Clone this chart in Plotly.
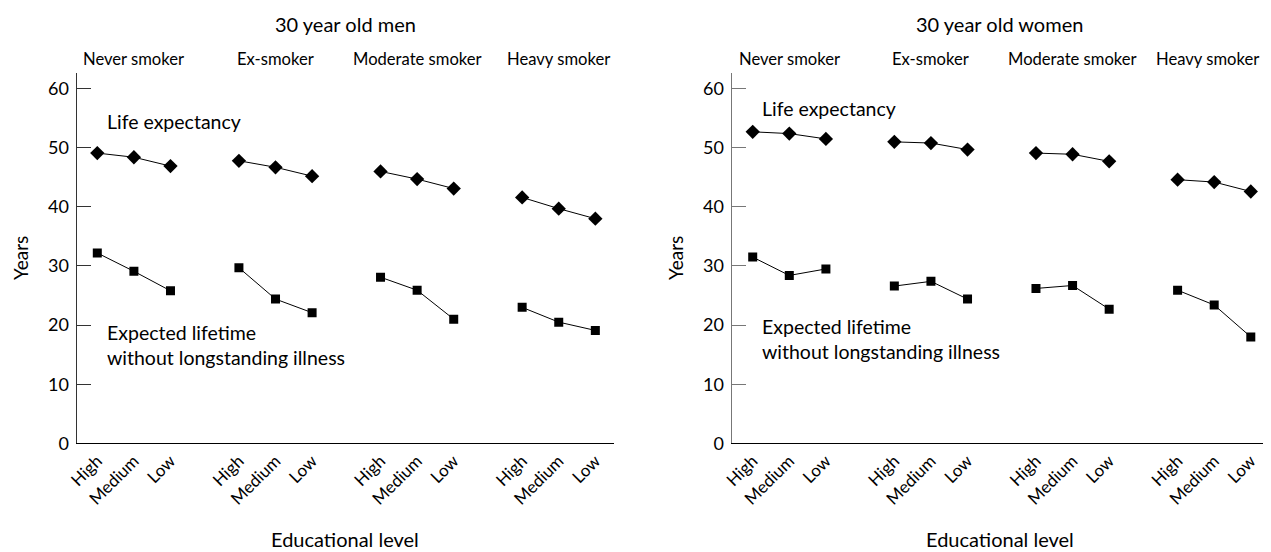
import plotly.graph_objects as go

groups = ["Never smoker", "Ex-smoker", "Moderate smoker", "Heavy smoker"]
levels = ["High", "Medium", "Low"]

men_life = [[49.1, 48.4, 46.9], [47.8, 46.7, 45.2], [46.0, 44.7, 43.1], [41.6, 39.7, 38.0]]
men_healthy = [[32.2, 29.1, 25.8], [29.7, 24.4, 22.1], [28.1, 25.9, 21.0], [23.0, 20.5, 19.1]]
women_life = [[52.7, 52.4, 51.5], [51.0, 50.8, 49.7], [49.1, 48.9, 47.7], [44.6, 44.2, 42.6]]
women_healthy = [[31.5, 28.4, 29.5], [26.6, 27.4, 24.4], [26.2, 26.7, 22.7], [25.9, 23.4, 18.0]]

panel_titles = ["30 year old men", "30 year old women"]
y_ticks = [0, 10, 20, 30, 40, 50, 60]

GAP = 3.87
FONT = "Lato"
W, H = 1271, 552
OFF = 8  # page body margin
FW, FH = W - OFF, H - OFF


def fx(px):
    return (px - OFF) / FW


def fy(py):
    return (H - py) / FH


def xpos(g, k):
    return g * GAP + k


def build(series):
    xs, ys = [], []
    for g, vals in enumerate(series):
        for k, v in enumerate(vals):
            xs.append(xpos(g, k))
            ys.append(v)
        xs.append(None)
        ys.append(None)
    return xs, ys


fig = go.Figure()
panels = [(men_life, men_healthy), (women_life, women_healthy)]
for p, (life, healthy) in enumerate(panels):
    xa = "x" if p == 0 else "x2"
    ya = "y" if p == 0 else "y2"
    x1, y1 = build(life)
    fig.add_trace(go.Scatter(x=x1, y=y1, xaxis=xa, yaxis=ya, mode="lines+markers",
                             line=dict(color="black", width=1),
                             marker=dict(symbol="diamond", size=11, color="black"),
                             connectgaps=False, showlegend=False))
    x2, y2 = build(healthy)
    fig.add_trace(go.Scatter(x=x2, y=y2, xaxis=xa, yaxis=ya, mode="lines+markers",
                             line=dict(color="black", width=1),
                             marker=dict(symbol="square", size=9, color="black"),
                             connectgaps=False, showlegend=False))

tickvals = [xpos(g, k) for g in range(len(groups)) for k in range(len(levels))]
ticktext = [levels[k] for g in range(len(groups)) for k in range(len(levels))]

xranges = [[-0.563, 14.12], [-0.574, 14.08]]
yrange_ = [0, 62.6]

xdoms = [[fx(76.7), fx(614)], [fx(731.7), fx(1268)]]
ydom = [fy(443.3), fy(73.3)]
ylinecolors = ["#333333", "#777777"]

common_x = dict(showline=True, linecolor="black", linewidth=1.2,
                showgrid=False, zeroline=False, tickmode="array", tickvals=tickvals,
                ticktext=ticktext, tickangle=-45, ticks="", automargin=False,
                tickfont=dict(family=FONT, size=17, color="black"))
common_y = dict(range=yrange_, showline=True, linewidth=1.3,
                showgrid=False, zeroline=False, tickmode="array", tickvals=y_ticks,
                ticks="inside", ticklen=14, tickwidth=1, automargin=False,
                ticklabelstandoff=3,
                tickfont=dict(family=FONT, size=18, color="black"))

fig.update_layout(
    width=FW, height=FH,
    margin=dict(l=0, r=0, t=0, b=0),
    paper_bgcolor="white", plot_bgcolor="white",
    xaxis=dict(domain=xdoms[0], anchor="y", range=xranges[0], **common_x),
    yaxis=dict(domain=ydom, anchor="x", linecolor=ylinecolors[0], tickcolor=ylinecolors[0], **common_y),
    xaxis2=dict(domain=xdoms[1], anchor="y2", range=xranges[1], **common_x),
    yaxis2=dict(domain=ydom, anchor="x2", linecolor=ylinecolors[1], tickcolor=ylinecolors[1], **common_y),
)

life_label_y = [54.4, 56.7]
life_label_x = [0.21, 0.2]
healthy_label_y = [16.6, 17.6]
years_x = [20, 675]

annotations = []
for p in range(2):
    xr = "x" if p == 0 else "x2"
    yr = "y" if p == 0 else "y2"
    dom = xdoms[p]
    cx = (dom[0] + dom[1]) / 2
    annotations.append(dict(text=panel_titles[p], xref="paper", yref="paper",
                            x=cx, y=fy(24), xanchor="center", yanchor="middle",
                            showarrow=False, font=dict(family=FONT, size=20, color="black")))
    annotations.append(dict(text="Educational level", xref="paper", yref="paper",
                            x=cx, y=0, xanchor="center", yanchor="bottom", borderpad=0,
                            showarrow=False, font=dict(family=FONT, size=20, color="black")))
    annotations.append(dict(text="Years", xref="paper", yref="paper", textangle=-90,
                            x=fx(years_x[p]), y=fy(258), xanchor="center", yanchor="middle",
                            showarrow=False, font=dict(family=FONT, size=19, color="black")))
    for g, name in enumerate(groups):
        shift = -7 if (p == 1 and g == len(groups) - 1) else 0
        annotations.append(dict(text=name, xref=xr, yref="paper", x=xpos(g, 1), y=fy(59),
                                xanchor="center", yanchor="middle", showarrow=False, borderpad=0,
                                xshift=shift,
                                font=dict(family=FONT, size=16.6, color="black")))
    annotations.append(dict(text="Life expectancy", xref=xr, yref=yr, x=life_label_x[p],
                            y=life_label_y[p], xanchor="left", yanchor="middle", showarrow=False,
                            font=dict(family=FONT, size=19.5, color="black")))
    annotations.append(dict(text="Expected lifetime<br>without longstanding illness", xref=xr, yref=yr,
                            x=life_label_x[p], y=healthy_label_y[p], xanchor="left", yanchor="middle",
                            align="left", showarrow=False,
                            font=dict(family=FONT, size=19.5, color="black")))
fig.update_layout(annotations=annotations)

fig.write_html("out.html")
